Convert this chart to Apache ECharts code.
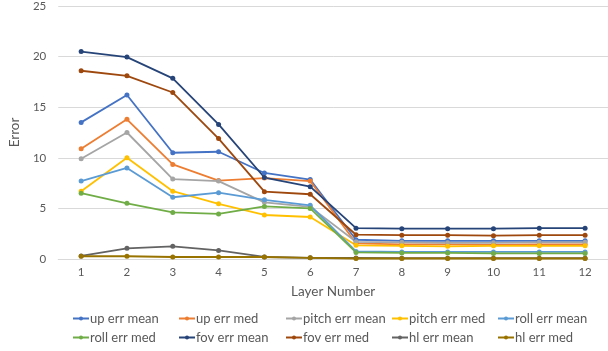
<!DOCTYPE html>
<html>
<head>
<meta charset="utf-8">
<script src="https://cdn.jsdelivr.net/npm/echarts@6/dist/echarts.min.js"></script>
<style>
  html, body { margin: 0; padding: 0; background: #fff; }
  #chart { width: 608px; height: 351px; }
</style>
</head>
<body>
<div id="chart"></div>
<script>
// Layer numbers along the x axis
const layers = ['1', '2', '3', '4', '5', '6', '7', '8', '9', '10', '11', '12'];

// Error per layer for each measure
const upErrMean    = [13.5, 16.2, 10.5, 10.6, 8.5, 7.85, 1.9, 1.8, 1.8, 1.8, 1.8, 1.8];
const upErrMed     = [10.9, 13.8, 9.35, 7.75, 8.0, 7.7, 1.55, 1.45, 1.45, 1.4, 1.45, 1.45];
const pitchErrMean = [9.9, 12.5, 7.9, 7.7, 5.6, 5.15, 1.7, 1.65, 1.6, 1.6, 1.65, 1.65];
const pitchErrMed  = [6.7, 10.0, 6.7, 5.45, 4.35, 4.15, 1.35, 1.3, 1.25, 1.3, 1.3, 1.3];
const rollErrMean  = [7.7, 9.0, 6.1, 6.55, 5.85, 5.3, 0.75, 0.7, 0.7, 0.7, 0.7, 0.7];
const rollErrMed   = [6.5, 5.5, 4.6, 4.45, 5.2, 5.0, 0.65, 0.6, 0.6, 0.55, 0.55, 0.55];
const fovErrMean   = [20.5, 19.95, 17.85, 13.3, 8.05, 7.15, 3.05, 3.0, 3.0, 3.0, 3.05, 3.05];
const fovErrMed    = [18.6, 18.1, 16.45, 11.9, 6.65, 6.4, 2.4, 2.35, 2.35, 2.3, 2.35, 2.35];
const hlErrMean    = [0.3, 1.05, 1.25, 0.85, 0.2, 0.12, 0.1, 0.08, 0.08, 0.08, 0.08, 0.08];
const hlErrMed     = [0.27, 0.27, 0.2, 0.2, 0.2, 0.12, 0.05, 0.05, 0.05, 0.05, 0.05, 0.05];

// Y axis ticks
const yMin = 0, yMax = 25, yStep = 5;

const seriesDefs = [
  { name: 'up err mean',    data: upErrMean,    color: '#4472C4' },
  { name: 'up err med',     data: upErrMed,     color: '#ED7D31' },
  { name: 'pitch err mean', data: pitchErrMean, color: '#A5A5A5' },
  { name: 'pitch err med',  data: pitchErrMed,  color: '#FFC000' },
  { name: 'roll err mean',  data: rollErrMean,  color: '#5B9BD5' },
  { name: 'roll err med',   data: rollErrMed,   color: '#70AD47' },
  { name: 'fov err mean',   data: fovErrMean,   color: '#264478' },
  { name: 'fov err med',    data: fovErrMed,    color: '#9E480E' },
  { name: 'hl err mean',    data: hlErrMean,    color: '#636363' },
  { name: 'hl err med',     data: hlErrMed,     color: '#997300' }
];

const FONT = 'Lato, "Liberation Sans", sans-serif';
const TEXT = '#595959';

// Legend laid out as a 5-column, 2-row table
const colLeft = [72, 178, 285, 391, 497];
const rowTop = [312, 331];
const legends = seriesDefs.map((s, i) => ({
  data: [s.name],
  left: colLeft[i % 5],
  top: rowTop[Math.floor(i / 5)],
  itemWidth: 16,
  itemHeight: 5,
  itemGap: 0,
  padding: 0,
  textStyle: { color: TEXT, fontSize: 13, fontFamily: FONT, padding: [0, 0, 0, -4] },
  selectedMode: false
}));

const chart = echarts.init(document.getElementById('chart'), null, { renderer: 'canvas' });
chart.setOption({
  animation: false,
  backgroundColor: '#ffffff',
  grid: { left: 45, top: 5, width: 565, height: 254, containLabel: false },
  legend: legends,
  xAxis: {
    type: 'category',
    data: layers,
    boundaryGap: true,
    name: 'Layer Number',
    nameLocation: 'middle',
    nameGap: 26,
    nameTextStyle: { color: TEXT, fontSize: 13.5, fontFamily: FONT },
    axisLine: { lineStyle: { color: '#D9D9D9', width: 1 } },
    axisTick: { show: false },
    axisLabel: { color: TEXT, fontSize: 11.5, fontFamily: FONT, margin: 7 },
    splitLine: { show: false }
  },
  yAxis: {
    type: 'value',
    min: yMin, max: yMax, interval: yStep,
    name: 'Error',
    nameLocation: 'middle',
    nameGap: 28,
    nameTextStyle: { color: TEXT, fontSize: 13.5, fontFamily: FONT },
    axisLine: { show: false },
    axisTick: { show: false },
    axisLabel: { color: TEXT, fontSize: 11.5, fontFamily: FONT, margin: 12 },
    splitLine: { lineStyle: { color: '#D9D9D9', width: 1 } }
  },
  series: seriesDefs.map(s => ({
    name: s.name,
    type: 'line',
    data: s.data,
    symbol: 'circle',
    symbolSize: 5,
    showSymbol: true,
    lineStyle: { color: s.color, width: 1.8 },
    itemStyle: { color: s.color },
    emphasis: { disabled: true }
  }))
});
</script>
</body>
</html>
